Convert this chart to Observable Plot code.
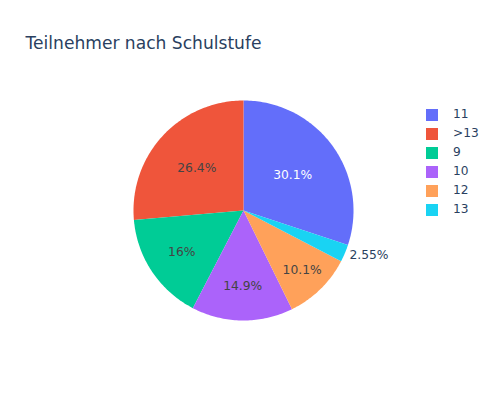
<!DOCTYPE html>
<html>
<head>
<meta charset="utf-8">
<script src="https://cdn.jsdelivr.net/npm/d3@7"></script>
<script src="https://cdn.jsdelivr.net/npm/@observablehq/plot@0.6"></script>
<style>
  html, body { margin: 0; padding: 0; background: #fff; }
  #wrap { position: relative; width: 500px; height: 400px; font-family: "DejaVu Sans", Verdana, sans-serif; }
  #title { position: absolute; left: 25.5px; top: 34.5px; font-size: 17.1px; line-height: 17.1px; color: #2a3f5f; white-space: nowrap; }
  #legend { position: absolute; left: 426px; top: 105.4px; font-size: 12.2px; color: #2a3f5f; }
  .item { height: 19px; line-height: 19px; position: relative; white-space: nowrap; }
  .sw { position: absolute; left: 0; top: 3.5px; width: 12px; height: 12px; }
  .lab { position: absolute; left: 27px; top: 0; }
  #chart { position: absolute; left: 0; top: 0; }
</style>
</head>
<body>
<div id="wrap">
  <div id="chart"></div>
  <div id="title">Teilnehmer nach Schulstufe</div>
  <div id="legend"></div>
</div>
<script>
const labels = ["11", ">13", "9", "10", "12", "13"];
const shares = [30.1, 26.4, 16, 14.9, 10.1, 2.55];
const pctText = ["30.1%", "26.4%", "16%", "14.9%", "10.1%", "2.55%"];
const colors = ["#636efa", "#EF553B", "#00cc96", "#ab63fa", "#FFA15A", "#19d3f3"];

const W = 500, H = 400, CX = 243, CY = 210, R = 110;
const total = d3.sum(shares);

// plotly-like layout: counterclockwise, first slice ends at 12 o'clock
let a = shares[0] / total * 2 * Math.PI;
const slices = labels.map((k, i) => {
  const sweep = shares[i] / total * 2 * Math.PI;
  const a1 = a, a0 = a - sweep;
  a = a0;
  return {key: k, a0, a1, share: shares[i], text: pctText[i], color: colors[i]};
});

const pts = [];
for (const s of slices) {
  pts.push({key: s.key, x: 0, y: 0});
  const n = Math.max(2, Math.ceil((s.a1 - s.a0) / (Math.PI / 180)));
  for (let j = 0; j <= n; j++) {
    const t = s.a0 + (s.a1 - s.a0) * j / n;
    pts.push({key: s.key, x: Math.sin(t), y: Math.cos(t)});
  }
  pts.push({key: s.key, x: 0, y: 0});
}

function textColor(c) {
  const r = d3.rgb(c);
  const b = (r.r * 299 + r.g * 587 + r.b * 114) / 1000;
  return b >= 128 ? "#444" : "#fff";
}

const inside = [], outside = [];
for (const s of slices) {
  const half = (s.a1 - s.a0) / 2;
  const mid = (s.a0 + s.a1) / 2;
  const rho = Math.sin(half) / (1 + Math.sin(half)); // inscribed circle radius (units of R)
  const tw = s.text.length * 7.4 / R, th = 14 / R;
  if (half < Math.PI / 2 && Math.hypot(tw, th) <= 2 * rho) {
    const rc = 1 / (1 + Math.sin(half));
    inside.push({x: rc * Math.sin(mid), y: rc * Math.cos(mid), text: s.text, fill: textColor(s.color)});
  } else {
    const ro = 1 + 5 / R;
    outside.push({x: ro * Math.sin(mid), y: ro * Math.cos(mid), text: s.text, anchor: Math.sin(mid) >= 0 ? "start" : "end"});
  }
}

const chart = Plot.plot({
  width: W, height: H,
  margin: 0, inset: 0,
  x: {domain: [-CX / R, (W - CX) / R], range: [0, W], axis: null},
  y: {domain: [-(H - CY) / R, CY / R], range: [H, 0], axis: null},
  color: {domain: labels, range: colors},
  style: {fontFamily: "DejaVu Sans, Verdana, sans-serif", background: "white"},
  marks: [
    Plot.line(pts, {x: "x", y: "y", z: "key", fill: "key", stroke: "none", curve: "linear"}),
    Plot.text(inside, {x: "x", y: "y", text: "text", fill: "fill", fontSize: 12.3}),
    Plot.text(outside.filter(d => d.anchor === "start"), {x: "x", y: "y", text: "text", fill: "#2a3f5f", fontSize: 12.3, textAnchor: "start"}),
    Plot.text(outside.filter(d => d.anchor === "end"), {x: "x", y: "y", text: "text", fill: "#2a3f5f", fontSize: 12.3, textAnchor: "end"})
  ]
});
document.getElementById("chart").appendChild(chart);

const leg = document.getElementById("legend");
labels.forEach((k, i) => {
  const it = document.createElement("div");
  it.className = "item";
  it.innerHTML = `<span class="sw" style="background:${colors[i]}"></span><span class="lab"></span>`;
  it.querySelector(".lab").textContent = k;
  leg.appendChild(it);
});
</script>
</body>
</html>
